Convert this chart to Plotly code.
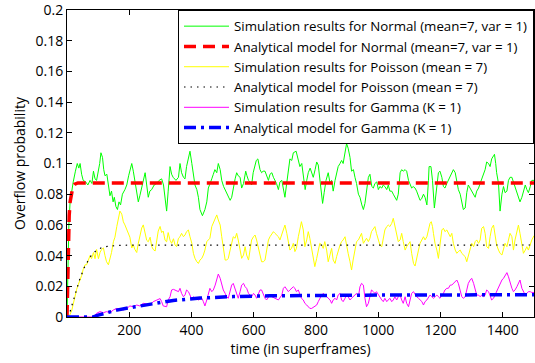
import plotly.graph_objects as go

# ---------------- data ----------------
x_tick_vals = [200, 400, 600, 800, 1000, 1200, 1400]
y_tick_vals = [0, 0.02, 0.04, 0.06, 0.08, 0.1, 0.12, 0.14, 0.16, 0.18, 0.2]
y_tick_text = ["0", "0.02", "0.04", "0.06", "0.08", "0.1", "0.12", "0.14", "0.16", "0.18", "0.2"]

series_names = [
    "Simulation results for Normal (mean=7, var = 1)",
    "Analytical model for Normal (mean=7, var = 1)",
    "Simulation results for Poisson (mean = 7)",
    "Analytical model for Poisson (mean = 7)",
    "Simulation results for Gamma (K = 1)",
    "Analytical model for Gamma (K = 1)",
]

normal_sim = [
    (0, 0), (3, 0.03), (6, 0.06), (10, 0.075), (15, 0.082), (20, 0.088), (27, 0.095), (33, 0.100),
    (38, 0.097), (42, 0.100), (47, 0.093), (52, 0.089), (60, 0.088), (67, 0.086), (74, 0.089),
    (80, 0.087), (85, 0.095), (90, 0.090), (95, 0.089), (100, 0.094), (105, 0.100), (109, 0.107),
    (114, 0.104), (118, 0.096), (122, 0.092), (128, 0.093), (133, 0.085), (138, 0.079), (143, 0.082),
    (148, 0.075), (152, 0.078), (157, 0.072), (162, 0.070), (167, 0.075), (172, 0.073), (178, 0.080),
    (186, 0.083), (192, 0.086), (198, 0.092), (204, 0.097), (208, 0.100), (213, 0.095), (218, 0.089),
    (223, 0.082), (229, 0.075), (234, 0.079), (240, 0.085), (246, 0.091), (251, 0.094), (256, 0.086),
    (261, 0.078), (266, 0.082), (272, 0.083), (280, 0.086), (288, 0.087), (296, 0.089), (304, 0.090),
    (310, 0.086), (316, 0.076), (320, 0.069), (325, 0.082), (331, 0.098), (336, 0.093), (341, 0.091),
    (350, 0.089), (358, 0.091),
    (363, 0.100), (368, 0.094), (374, 0.091), (379, 0.090), (384, 0.098), (390, 0.104), (395, 0.108),
    (401, 0.100), (406, 0.091), (411, 0.086), (417, 0.083), (422, 0.078), (427, 0.070), (435, 0.066),
    (443, 0.070), (449, 0.075), (454, 0.084), (460, 0.088), (465, 0.090), (470, 0.093), (475, 0.096),
    (481, 0.094), (486, 0.100), (492, 0.096), (497, 0.089), (503, 0.085), (508, 0.083), (513, 0.080),
    (518, 0.078), (524, 0.076), (529, 0.078), (534, 0.084), (540, 0.090), (545, 0.094), (550, 0.092),
    (556, 0.091), (561, 0.084), (567, 0.087), (574, 0.095), (578, 0.092), (583, 0.089), (588, 0.088),
    (593, 0.086), (598, 0.094), (604, 0.100), (608, 0.102), (613, 0.103), (620, 0.096), (625, 0.094),
    (630, 0.095), (636, 0.095), (641, 0.092), (647, 0.089), (652, 0.093), (658, 0.094), (663, 0.091),
    (668, 0.089), (673, 0.087), (679, 0.083), (684, 0.088), (690, 0.089), (695, 0.084), (700, 0.078),
    (705, 0.086), (711, 0.094), (716, 0.103), (722, 0.102),
    (727, 0.107), (736, 0.108), (740, 0.104), (748, 0.098), (754, 0.100), (759, 0.091), (765, 0.083),
    (770, 0.089), (775, 0.094), (781, 0.097), (786, 0.094), (791, 0.091), (797, 0.096), (802, 0.101),
    (807, 0.099), (813, 0.089), (818, 0.078), (821, 0.074), (826, 0.081), (832, 0.089), (839, 0.094),
    (845, 0.087), (850, 0.089), (855, 0.082), (861, 0.089), (866, 0.094), (871, 0.098), (877, 0.100),
    (882, 0.102), (887, 0.100), (893, 0.109), (898, 0.113), (903, 0.110), (909, 0.104), (914, 0.095),
    (920, 0.096), (925, 0.091), (930, 0.087), (936, 0.080), (941, 0.078), (947, 0.073), (952, 0.070),
    (957, 0.074), (963, 0.084), (968, 0.091), (973, 0.093), (979, 0.085), (984, 0.084), (989, 0.087),
    (995, 0.088), (1000, 0.083), (1005, 0.085), (1011, 0.084), (1016, 0.086), (1021, 0.085),
    (1027, 0.083), (1032, 0.086), (1037, 0.082), (1043, 0.082), (1048, 0.080), (1053, 0.078),
    (1059, 0.076), (1064, 0.080), (1070, 0.094), (1075, 0.096), (1080, 0.095),
    (1086, 0.096), (1091, 0.095), (1097, 0.089), (1102, 0.086), (1107, 0.084), (1112, 0.085),
    (1118, 0.084), (1123, 0.082), (1129, 0.078), (1134, 0.076), (1139, 0.077), (1145, 0.080),
    (1150, 0.078), (1156, 0.073), (1161, 0.089), (1163, 0.098), (1169, 0.098), (1174, 0.089),
    (1180, 0.071), (1188, 0.083), (1193, 0.094), (1198, 0.095), (1204, 0.091), (1209, 0.085),
    (1214, 0.084), (1220, 0.087), (1225, 0.089), (1230, 0.091), (1236, 0.094), (1241, 0.096),
    (1247, 0.094), (1252, 0.089), (1257, 0.083), (1263, 0.080), (1268, 0.075), (1273, 0.070),
    (1279, 0.071), (1284, 0.081), (1289, 0.086), (1295, 0.084), (1300, 0.082), (1305, 0.080),
    (1311, 0.078), (1316, 0.082), (1322, 0.084), (1327, 0.087), (1332, 0.090), (1338, 0.094),
    (1343, 0.096), (1348, 0.101), (1354, 0.100), (1359, 0.098), (1364, 0.103), (1370, 0.105),
    (1373, 0.106), (1377, 0.100), (1380, 0.094), (1386, 0.087), (1391, 0.069), (1397, 0.080),
    (1402, 0.085), (1407, 0.081), (1413, 0.082), (1418, 0.089), (1423, 0.091), (1429, 0.091),
    (1434, 0.088), (1439, 0.085), (1445, 0.082), (1450, 0.078), (1455, 0.075), (1461, 0.078),
    (1466, 0.082), (1472, 0.086), (1477, 0.083), (1482, 0.081), (1488, 0.085), (1493, 0.089),
    (1500, 0.089),
]

normal_model = [
    (0, 0), (2, 0.03), (4, 0.05), (7, 0.066), (10, 0.075), (14, 0.081), (19, 0.085), (25, 0.0865),
    (35, 0.0873), (1500, 0.0873),
]

poisson_sim = [
    (0, 0), (8, 0.001), (15, 0.004), (20, 0.009), (26, 0.013), (31, 0.018), (36, 0.021), (42, 0.024),
    (47, 0.027), (52, 0.031), (58, 0.034), (63, 0.034), (69, 0.038), (74, 0.040), (79, 0.038),
    (85, 0.042), (90, 0.038), (95, 0.044), (101, 0.038), (106, 0.042), (111, 0.044), (117, 0.045),
    (122, 0.040), (127, 0.036), (133, 0.034), (138, 0.038), (143, 0.042), (149, 0.049), (154, 0.052),
    (160, 0.059), (165, 0.065), (170, 0.069), (176, 0.067), (181, 0.062), (186, 0.060), (192, 0.057),
    (197, 0.055), (202, 0.052), (208, 0.045), (213, 0.047), (218, 0.044), (224, 0.042), (229, 0.048),
    (234, 0.052), (240, 0.058), (245, 0.060), (251, 0.055), (256, 0.050), (261, 0.049), (267, 0.052),
    (272, 0.046), (277, 0.044), (283, 0.043), (288, 0.049), (293, 0.056), (299, 0.059), (304, 0.055),
    (309, 0.056), (315, 0.050), (320, 0.049), (325, 0.055), (331, 0.050), (336, 0.048), (342, 0.051),
    (347, 0.0469), (352, 0.0458), (358, 0.0513), (363, 0.0523), (368, 0.0545), (374, 0.0523),
    (379, 0.0534), (384, 0.0556), (390, 0.0567), (395, 0.0523), (401, 0.0480), (406, 0.0415),
    (411, 0.0382), (417, 0.0360), (422, 0.0349), (427, 0.0371), (433, 0.0382), (438, 0.0404),
    (443, 0.0436), (449, 0.0491), (454, 0.0502), (459, 0.0513), (465, 0.0589), (470, 0.0610),
    (476, 0.0643), (481, 0.0665), (486, 0.0632), (492, 0.0599), (497, 0.0523), (502, 0.0436),
    (508, 0.0371), (513, 0.0371), (518, 0.0382), (524, 0.0436), (529, 0.0491), (534, 0.0523),
    (540, 0.0513), (545, 0.0545), (550, 0.0502), (556, 0.0436), (561, 0.0382), (567, 0.0404),
    (572, 0.0458), (577, 0.0404), (583, 0.0371), (588, 0.0436), (593, 0.0502), (599, 0.0523),
    (604, 0.0534), (609, 0.0502), (615, 0.0458), (620, 0.0404), (625, 0.0360), (631, 0.0360),
    (636, 0.0371), (641, 0.0436), (647, 0.0502), (652, 0.0523), (658, 0.0545), (663, 0.0556),
    (668, 0.0545), (674, 0.0534), (679, 0.0523), (684, 0.0502), (690, 0.0545), (695, 0.0578),
    (700, 0.0599), (706, 0.0545), (711, 0.0480), (716, 0.0436), (721, 0.0447),
    (727, 0.0480), (732, 0.0426), (737, 0.0447), (743, 0.0523), (748, 0.0578), (753, 0.0621),
    (759, 0.0567), (764, 0.0458), (770, 0.0502), (775, 0.0556), (780, 0.0513), (786, 0.0436),
    (791, 0.0371), (796, 0.0328), (802, 0.0382), (807, 0.0436), (812, 0.0480), (818, 0.0469),
    (823, 0.0447), (828, 0.0491), (834, 0.0436), (839, 0.0360), (845, 0.0415), (850, 0.0447),
    (855, 0.0371), (861, 0.0349), (866, 0.0393), (871, 0.0436), (877, 0.0469), (882, 0.0491),
    (887, 0.0502), (893, 0.0523), (898, 0.0458), (903, 0.0415), (909, 0.0360), (914, 0.0306),
    (919, 0.0371), (925, 0.0447), (930, 0.0491), (936, 0.0502), (941, 0.0523), (946, 0.0545),
    (952, 0.0480), (957, 0.0502), (962, 0.0513), (968, 0.0491), (973, 0.0513), (978, 0.0556),
    (984, 0.0578), (989, 0.0589), (994, 0.0545), (1000, 0.0502), (1005, 0.0469), (1011, 0.0458),
    (1016, 0.0502), (1021, 0.0567), (1027, 0.0589), (1032, 0.0599), (1037, 0.0589), (1043, 0.0610),
    (1048, 0.0643), (1053, 0.0589), (1059, 0.0523), (1064, 0.0491), (1070, 0.0502), (1075, 0.0545),
    (1080, 0.0491), (1086, 0.0436), (1091, 0.0458), (1097, 0.0480), (1102, 0.0491), (1107, 0.0415),
    (1113, 0.0349), (1118, 0.0332), (1123, 0.0371), (1129, 0.0436), (1134, 0.0480), (1140, 0.0502),
    (1145, 0.0523), (1150, 0.0502), (1156, 0.0523), (1161, 0.0567), (1166, 0.0610), (1170, 0.0621),
    (1174, 0.0589), (1177, 0.0545), (1182, 0.0480), (1188, 0.0436), (1193, 0.0382), (1198, 0.0469),
    (1204, 0.0567), (1209, 0.0578), (1214, 0.0556), (1220, 0.0567), (1225, 0.0545), (1231, 0.0523),
    (1236, 0.0545), (1241, 0.0480), (1247, 0.0436), (1252, 0.0415), (1257, 0.0426), (1263, 0.0436),
    (1268, 0.0415), (1273, 0.0404), (1279, 0.0393), (1284, 0.0360), (1289, 0.0404), (1295, 0.0458),
    (1300, 0.0480), (1306, 0.0458), (1311, 0.0491), (1316, 0.0502), (1322, 0.0480), (1327, 0.0502),
    (1332, 0.0578), (1338, 0.0589), (1343, 0.0545), (1348, 0.0458), (1354, 0.0447), (1359, 0.0523),
    (1364, 0.0578), (1370, 0.0599), (1375, 0.0545), (1380, 0.0469), (1386, 0.0436), (1391, 0.0415),
    (1397, 0.0404), (1402, 0.0436), (1407, 0.0480), (1413, 0.0458), (1418, 0.0502), (1423, 0.0545),
    (1429, 0.0523), (1434, 0.0436), (1439, 0.0502), (1445, 0.0567), (1450, 0.0599), (1455, 0.0545),
    (1461, 0.0458), (1466, 0.0415), (1472, 0.0436), (1477, 0.0458), (1482, 0.0436), (1488, 0.0480),
    (1493, 0.0502), (1500, 0.0530),
]

poisson_model = [
    (0, 0), (8, 0.002), (15, 0.007), (20, 0.011), (31, 0.018), (40, 0.024), (47, 0.028), (55, 0.032),
    (63, 0.035), (71, 0.038), (79, 0.0405), (87, 0.042), (95, 0.0435), (111, 0.0452), (130, 0.046),
    (160, 0.0466), (200, 0.0468), (1500, 0.0469),
]

gamma_sim = [
    (0, 0), (85, 0), (95, 0.0024), (106, 0.0035), (117, 0.0028), (127, 0.0035), (138, 0.0028),
    (149, 0.0046), (160, 0.0056), (170, 0.0050), (181, 0.0046), (192, 0.0056), (202, 0.0072),
    (213, 0.0067), (224, 0.0078), (234, 0.0072), (245, 0.0089), (256, 0.0085), (267, 0.0078),
    (277, 0.0100), (288, 0.0111), (299, 0.0120), (304, 0.0100), (309, 0.0072), (320, 0.0067),
    (325, 0.0111), (331, 0.0132), (336, 0.0176), (342, 0.0180),
    (347, 0.0176), (358, 0.0165), (363, 0.0187), (368, 0.0154), (374, 0.0132), (379, 0.0143),
    (384, 0.0176), (390, 0.0165), (395, 0.0143), (401, 0.0111), (406, 0.0132), (411, 0.0122),
    (422, 0.0111), (433, 0.0122), (438, 0.0100), (443, 0.0072), (449, 0.0111), (454, 0.0154),
    (459, 0.0187), (465, 0.0165), (470, 0.0176), (476, 0.0208), (481, 0.0241), (486, 0.0280),
    (492, 0.0252), (497, 0.0208), (502, 0.0176), (508, 0.0154), (513, 0.0132), (518, 0.0122),
    (524, 0.0176), (529, 0.0208), (534, 0.0219), (540, 0.0176), (545, 0.0143), (550, 0.0122),
    (556, 0.0165), (561, 0.0208), (567, 0.0219), (572, 0.0197), (577, 0.0187), (583, 0.0154),
    (588, 0.0143), (593, 0.0132), (599, 0.0154), (604, 0.0143), (609, 0.0122), (615, 0.0154),
    (620, 0.0176), (625, 0.0176), (631, 0.0143), (636, 0.0122), (641, 0.0111), (647, 0.0132),
    (652, 0.0143), (658, 0.0132), (668, 0.0122), (679, 0.0111), (690, 0.0143), (695, 0.0187),
    (700, 0.0197), (706, 0.0176), (711, 0.0165), (716, 0.0176),
    (727, 0.0197), (732, 0.0187), (737, 0.0165), (743, 0.0176), (748, 0.0143), (753, 0.0122),
    (759, 0.0111), (764, 0.0089), (770, 0.0078), (775, 0.0067), (780, 0.0056), (786, 0.0056),
    (791, 0.0063), (796, 0.0067), (802, 0.0078), (807, 0.0100), (812, 0.0122), (818, 0.0143),
    (823, 0.0154), (828, 0.0143), (834, 0.0132), (839, 0.0122), (845, 0.0111), (850, 0.0089),
    (855, 0.0111), (861, 0.0122), (866, 0.0111), (871, 0.0143), (877, 0.0154), (882, 0.0111),
    (887, 0.0100), (893, 0.0122), (898, 0.0143), (903, 0.0132), (909, 0.0111), (914, 0.0122),
    (919, 0.0132), (925, 0.0143), (930, 0.0154), (936, 0.0132), (941, 0.0197), (946, 0.0219),
    (952, 0.0208), (957, 0.0122), (962, 0.0067), (968, 0.0089), (973, 0.0132), (978, 0.0176),
    (984, 0.0165), (989, 0.0154), (994, 0.0165), (1000, 0.0143), (1005, 0.0132), (1011, 0.0111),
    (1016, 0.0100), (1021, 0.0122), (1027, 0.0100), (1032, 0.0111), (1037, 0.0122), (1043, 0.0100),
    (1048, 0.0111), (1053, 0.0132), (1059, 0.0111), (1064, 0.0132), (1070, 0.0143), (1075, 0.0111),
    (1080, 0.0089), (1086, 0.0132), (1091, 0.0089), (1097, 0.0067), (1102, 0.0111), (1107, 0.0154),
    (1113, 0.0165), (1118, 0.0143), (1123, 0.0132), (1129, 0.0122), (1134, 0.0111), (1140, 0.0100),
    (1145, 0.0078), (1150, 0.0100), (1156, 0.0111), (1161, 0.0132), (1166, 0.0143), (1172, 0.0132),
    (1177, 0.0122), (1182, 0.0132), (1188, 0.0143), (1193, 0.0132), (1198, 0.0122), (1204, 0.0143),
    (1209, 0.0154), (1214, 0.0176), (1220, 0.0187), (1225, 0.0187), (1231, 0.0208), (1236, 0.0208),
    (1241, 0.0219), (1247, 0.0230), (1252, 0.0241), (1257, 0.0219), (1263, 0.0176), (1268, 0.0132),
    (1273, 0.0122), (1279, 0.0132), (1284, 0.0176), (1289, 0.0219), (1295, 0.0241), (1300, 0.0252),
    (1306, 0.0219), (1311, 0.0176), (1316, 0.0143), (1322, 0.0143), (1327, 0.0132), (1332, 0.0143),
    (1338, 0.0132), (1343, 0.0143), (1348, 0.0176), (1354, 0.0165), (1359, 0.0132), (1364, 0.0111),
    (1370, 0.0122), (1375, 0.0143), (1380, 0.0165), (1386, 0.0187), (1391, 0.0219), (1397, 0.0241),
    (1402, 0.0252), (1407, 0.0273), (1413, 0.0289), (1418, 0.0262), (1423, 0.0219), (1429, 0.0187),
    (1434, 0.0165), (1439, 0.0176), (1445, 0.0197), (1450, 0.0219), (1455, 0.0241), (1461, 0.0187),
    (1466, 0.0165), (1472, 0.0143), (1477, 0.0154), (1482, 0.0165), (1488, 0.0165), (1493, 0.0160),
    (1500, 0.0160),
]

gamma_model = [
    (0, 0), (85, 0), (100, 0.0012), (120, 0.0022), (160, 0.0045), (214, 0.0065), (268, 0.0082),
    (341, 0.0108), (427, 0.0123), (534, 0.0133), (650, 0.0138), (800, 0.0141), (1000, 0.0143),
    (1500, 0.0145),
]

# ---------------- figure ----------------
FONT = "'Open Sans', Arial, sans-serif"

styles = [
    dict(color="#00FF00", width=1, dash="solid"),
    dict(color="#FF0000", width=3.5, dash="12px,7px"),
    dict(color="#FFFF00", width=1, dash="solid"),
    dict(color="#000000", width=1.2, dash="1.5px,5px"),
    dict(color="#FF00FF", width=1, dash="solid"),
    dict(color="#0000FF", width=3.5, dash="12px,5px,3px,5px"),
]
all_series = [normal_sim, normal_model, poisson_sim, poisson_model, gamma_sim, gamma_model]

fig = go.Figure()
for name, pts, st in zip(series_names, all_series, styles):
    xs = [p[0] for p in pts]
    ys = [p[1] for p in pts]
    fig.add_trace(go.Scatter(x=xs, y=ys, mode="lines", name=name, line=st))

axis_common = dict(
    showgrid=False, zeroline=False, showline=True, linecolor="black", linewidth=1,
    mirror="ticks", ticks="inside", ticklen=5, tickwidth=1, tickcolor="black",
    tickfont=dict(family=FONT, size=14, color="black"),
    ticklabeloverflow="allow",
)

fig.update_layout(
    width=535, height=363,
    margin=dict(l=67, r=1, t=10, b=46, pad=0),
    paper_bgcolor="white", plot_bgcolor="white",
    font=dict(family=FONT, size=14, color="black"),
    xaxis=dict(range=[0, 1500], tickmode="array", tickvals=x_tick_vals,
               title=dict(text="time (in superframes)", font=dict(family=FONT, size=14), standoff=2),
               **axis_common),
    yaxis=dict(range=[0, 0.2], tickmode="array", tickvals=y_tick_vals, ticktext=y_tick_text,
               title=dict(text="Overflow probability", font=dict(family=FONT, size=14), standoff=6),
               **axis_common),
    legend=dict(x=1, y=1, xanchor="right", yanchor="top", bgcolor="white",
                bordercolor="black", borderwidth=1, font=dict(family=FONT, size=13.3),
                itemwidth=45, tracegroupgap=0),
    showlegend=True,
)

fig.write_html("out.html")
